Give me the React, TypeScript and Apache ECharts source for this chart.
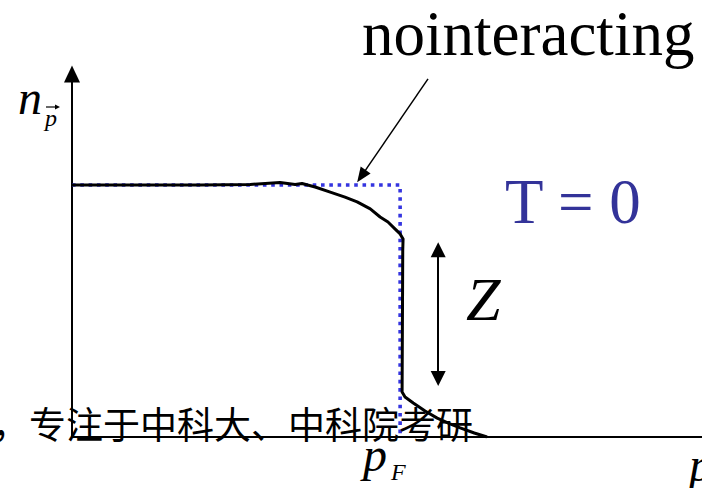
import React, { useEffect, useRef } from "react";
import * as echarts from "echarts";

// Occupation number n_p versus momentum p at T = 0.
// Interacting Fermi liquid (solid) and free Fermi gas step (dotted).
const interactingCurve: [number, number][] = [
  [0, 1.0],
  [0.39, 1.0],
  [0.543, 1.002],
  [0.634, 1.01],
  [0.68, 1.002],
  [0.701, 1.006],
  [0.741, 0.992],
  [0.787, 0.972],
  [0.832, 0.952],
  [0.869, 0.933],
  [0.909, 0.905],
  [0.939, 0.873],
  [0.963, 0.853],
  [0.985, 0.825],
  [1.0, 0.806],
  [1.009, 0.786],
  [1.008, 0.742],
  [1.006, 0.179],
  [1.015, 0.159],
  [1.04, 0.135],
  [1.076, 0.103],
  [1.113, 0.075],
  [1.152, 0.052],
  [1.183, 0.036],
  [1.226, 0.016],
  [1.265, 0.0],
];

const freeStep: [number, number][] = [
  [0, 1],
  [1, 1],
  [1, 0],
];

// annotation arrows in (p, n) coordinates
const pointerArrow: [number, number][] = [
  [1.085, 1.421],
  [0.882, 1.035],
];
const jumpArrow: [number, number][] = [
  [1.116, 0.743],
  [1.116, 0.232],
];

const P_MAX = 1.92;
const N_MAX = 1.44;

const serif = "'Liberation Serif', 'Times New Roman', serif";

export default function App() {
  const ref = useRef<HTMLDivElement>(null);

  useEffect(() => {
    if (!ref.current) return;
    const chart = echarts.init(ref.current, undefined, { renderer: "svg" });

    const txt = (
      text: string,
      x: number,
      y: number,
      size: number,
      opts: Record<string, any> = {}
    ) => ({
      type: "text",
      x,
      y,
      z: 10,
      style: {
        text,
        fontFamily: serif,
        fontSize: size,
        fill: "#000",
        verticalAlign: "middle",
        align: "left",
        ...opts,
      },
    });

    chart.setOption({
      animation: false,
      grid: { left: 72, right: 0, top: 437 - N_MAX * 252, bottom: 51 },
      xAxis: {
        type: "value",
        min: 0,
        max: P_MAX,
        axisLine: { show: true, lineStyle: { color: "#000", width: 1.8 } },
        axisTick: { show: false },
        axisLabel: { show: false },
        splitLine: { show: false },
      },
      yAxis: {
        type: "value",
        min: 0,
        max: N_MAX,
        axisLine: {
          show: true,
          symbol: ["none", "triangle"],
          symbolSize: [16, 17],
          lineStyle: { color: "#000", width: 2 },
        },
        axisTick: { show: false },
        axisLabel: { show: false },
        splitLine: { show: false },
      },
      series: [
        {
          type: "line",
          data: freeStep,
          showSymbol: false,
          silent: true,
          lineStyle: { color: "#3535e0", width: 3.6, type: [3.6, 4.7], cap: "butt" },
          z: 2,
        },
        {
          type: "line",
          data: interactingCurve,
          showSymbol: false,
          silent: true,
          lineStyle: { color: "#000", width: 3, join: "round" },
          z: 3,
        },
        {
          type: "line",
          data: [],
          silent: true,
          markLine: {
            silent: true,
            animation: false,
            symbol: ["none", "triangle"],
            symbolSize: [12, 15],
            label: { show: false },
            lineStyle: { color: "#000", width: 1.5, type: "solid" },
            data: [
              [{ coord: pointerArrow[0] }, { coord: pointerArrow[1] }],
            ],
          },
        },
        {
          type: "line",
          data: [],
          silent: true,
          markLine: {
            silent: true,
            animation: false,
            symbol: ["triangle", "triangle"],
            symbolSize: [15, 15],
            label: { show: false },
            lineStyle: { color: "#000", width: 2, type: "solid" },
            data: [[{ coord: jumpArrow[0] }, { coord: jumpArrow[1] }]],
          },
        },
      ],
      graphic: [
        txt("nointeracting", 362, 34, 63),
        txt("T = 0", 505, 202, 63, { fill: "#333399" }),
        txt("Z", 466, 299, 62, { fontStyle: "italic" }),
        txt("n", 18, 97, 48, { fontStyle: "italic" }),
        txt("p", 45, 118, 24, { fontStyle: "italic" }),
        {
          type: "line",
          z: 10,
          shape: { x1: 46, y1: 107, x2: 56, y2: 107 },
          style: { stroke: "#000", lineWidth: 1.2 },
        },
        {
          type: "polygon",
          z: 10,
          shape: { points: [[55, 104.5], [60, 107], [55, 109.5]] },
          style: { fill: "#000" },
        },
        txt("p", 363, 454, 48, { fontStyle: "italic" }),
        txt("F", 391, 472, 24, { fontStyle: "italic" }),
        txt("p", 689, 464, 48, { fontStyle: "italic" }),
        txt("，专注于中科大、中科院考研", -8, 423, 37, {
          fontFamily: "'Noto Sans CJK SC', sans-serif",
        }),
      ],
    });

    return () => chart.dispose();
  }, []);

  return (
    <div
      ref={ref}
      style={{ position: "absolute", left: 0, top: 0, width: 702, height: 488 }}
    />
  );
}
